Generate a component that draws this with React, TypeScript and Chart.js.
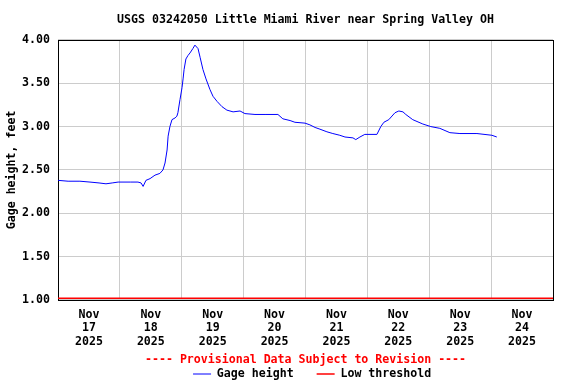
import { useEffect, useRef } from 'react';
import { Chart, registerables } from 'chart.js';
Chart.register(...registerables);

// hours since Nov 17 2025 00:00
const hours = [
  0, 3.9, 8.5, 12.4, 15.9, 18.6, 21, 23.3, 28, 31, 32.2, 33, 34.1, 35.7, 37.6, 39.5,
  40.7, 41.5, 42.3, 42.7, 43.4, 44.2, 45.4, 46.1, 46.5, 47.3, 48.1, 48.5, 48.9, 49.6,
  50.4, 51.2, 52.3, 53.1, 54.3, 55.1, 56.2, 57.4, 58.9, 60.1, 61.7, 63.6, 65.5, 67.9,
  70.6, 72.5, 76.4, 80.3, 85.3, 87.2, 90, 91.9, 95.8, 97.7, 99.7, 101.6, 104.3, 106.6,
  109.3, 111.3, 114.4, 115.5, 117.1, 119, 123.7, 125.2, 126.4, 128.3, 130.7, 132.2,
  133.8, 134.9, 137.6, 141.5, 144.6, 148.1, 152, 155.9, 162.5, 168.3, 170.2,
];
const gageHeight = [
  2.38, 2.37, 2.37, 2.36, 2.35, 2.34, 2.35, 2.36, 2.36, 2.36, 2.35, 2.31, 2.38, 2.40, 2.44, 2.46,
  2.50, 2.58, 2.73, 2.89, 3.00, 3.08, 3.10, 3.12, 3.16, 3.31, 3.45, 3.55, 3.66, 3.78,
  3.82, 3.85, 3.90, 3.94, 3.90, 3.80, 3.66, 3.55, 3.43, 3.35, 3.29, 3.23, 3.19, 3.17,
  3.18, 3.15, 3.14, 3.14, 3.14, 3.09, 3.07, 3.05, 3.04, 3.02, 2.99, 2.97, 2.94, 2.92,
  2.90, 2.88, 2.87, 2.85, 2.88, 2.91, 2.91, 3.00, 3.05, 3.08, 3.16, 3.18,
  3.17, 3.14, 3.08, 3.03, 3.00, 2.98, 2.93, 2.92, 2.92, 2.90, 2.88,
];
const lowThreshold = 1.02;
const dayLabels = [
  ['Nov', '17', '2025'], ['Nov', '18', '2025'], ['Nov', '19', '2025'], ['Nov', '20', '2025'],
  ['Nov', '21', '2025'], ['Nov', '22', '2025'], ['Nov', '23', '2025'], ['Nov', '24', '2025'],
];
const yTicks = [1, 1.5, 2, 2.5, 3, 3.5, 4];
const xTicks = [0, 12, 24, 36, 48, 60, 72, 84, 96, 108, 120, 132, 144, 156, 168, 180, 192];

export default function App() {
  const ref = useRef<HTMLCanvasElement>(null);
  useEffect(() => {
    document.body.style.margin = '0';
    const font = { family: "'DejaVu Sans Mono', monospace", size: 11.6, weight: 'bold' as const };
    const frame = {
      id: 'frame',
      afterLayout(chart: any) {
        if (chart.legend) {
          chart.legend.left += 6.6;
          chart.legend.right += 6.6;
        }
      },
      beforeDatasetsDraw(chart: any) {
        const { ctx, chartArea: a } = chart;
        ctx.save();
        ctx.strokeStyle = '#000';
        ctx.lineWidth = 1;
        const l = Math.round(a.left) + 0.5, t = Math.round(a.top) + 0.5;
        const r = Math.round(a.right) + 0.5, b = Math.round(a.bottom) + 0.5;
        ctx.strokeRect(l, t, r - l, b - t);
        ctx.restore();
      },
    };
    const chart = new Chart(ref.current!, {
      type: 'line',
      data: {
        datasets: [
          {
            label: 'Gage height',
            data: hours.map((h, i) => ({ x: h, y: gageHeight[i] })),
            borderColor: '#0000ff',
            backgroundColor: '#0000ff',
            borderWidth: 1,
            pointRadius: 0,
            tension: 0,
          },
          {
            label: 'Low threshold',
            data: [{ x: 0, y: lowThreshold }, { x: 192, y: lowThreshold }],
            borderColor: '#ff0000',
            backgroundColor: '#ff0000',
            borderWidth: 1.5,
            pointRadius: 0,
          },
        ],
      },
      options: {
        animation: false,
        responsive: false,
        layout: { padding: { left: 1, right: 23, top: 0, bottom: -5.8 } },
        scales: {
          x: {
            type: 'linear',
            min: 0,
            max: 192,
            afterBuildTicks: (s: any) => { s.ticks = xTicks.map((v) => ({ value: v })); },
            ticks: {
              autoSkip: false,
              maxRotation: 0,
              padding: 8,
              color: '#000',
              font: { ...font, lineHeight: 1.17 },
              callback: (v: any) => {
                const n = Number(v);
                return n % 24 === 12 ? dayLabels[(n - 12) / 24] : '';
              },
            },
            grid: {
              drawTicks: false,
              color: (c: any) => (c.tick && c.tick.value % 24 === 0 && c.tick.value > 0 && c.tick.value < 192 ? '#cccccc' : 'rgba(0,0,0,0)'),
            },
            border: { display: false },
            title: {
              display: true,
              text: '---- Provisional Data Subject to Revision ----',
              color: '#ff0000',
              font,
              padding: { top: -3.6, bottom: -21.8 },
            },
          },
          y: {
            min: 1,
            max: 4,
            afterBuildTicks: (s: any) => { s.ticks = yTicks.map((v) => ({ value: v })); },
            ticks: {
              padding: 8,
              color: '#000',
              font,
              callback: (v: any) => Number(v).toFixed(2),
            },
            grid: { drawTicks: false, color: '#cccccc' },
            border: { display: false },
            title: {
              display: true,
              text: 'Gage height, feet',
              color: '#000',
              font,
              padding: { top: 4, bottom: -4.8 },
            },
          },
        },
        plugins: {
          title: {
            display: true,
            text: 'USGS 03242050 Little Miami River near Spring Valley OH',
            color: '#000',
            font,
            fullSize: false,
            padding: { top: 13, bottom: 13 },
          },
          legend: {
            position: 'bottom',
            fullSize: false,
            labels: {
              usePointStyle: true,
              pointStyle: 'line',
              pointStyleWidth: 18,
              color: '#000',
              font,
              padding: 23,
            },
          },
          tooltip: { enabled: false },
        },
      },
      plugins: [frame],
    } as any);
    return () => chart.destroy();
  }, []);
  return <canvas ref={ref} width={576} height={384} style={{ display: 'block' }} />;
}
